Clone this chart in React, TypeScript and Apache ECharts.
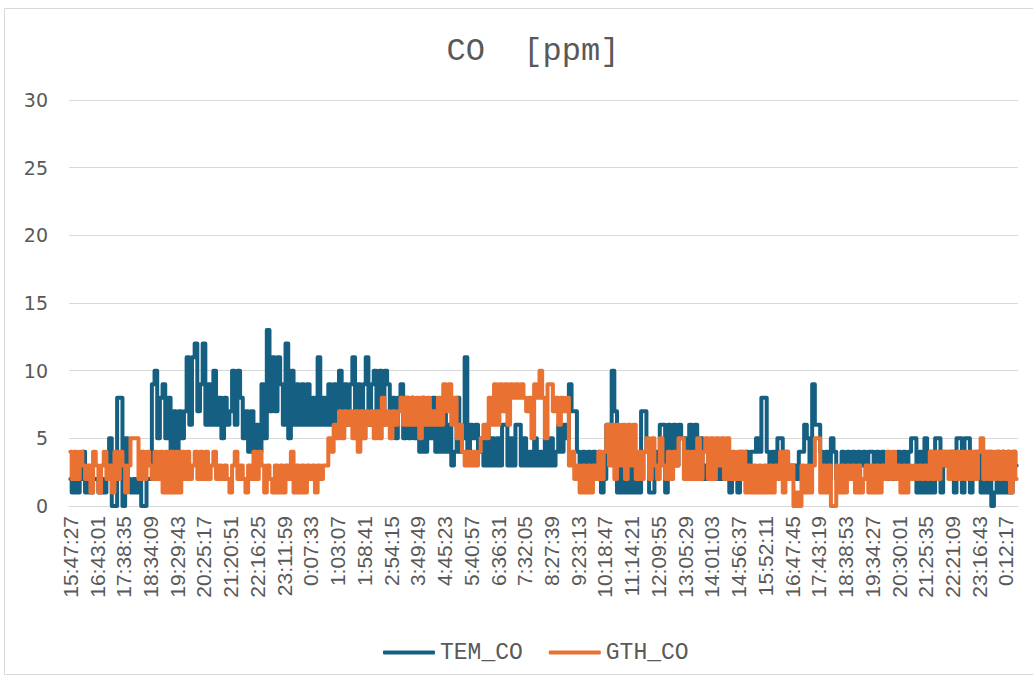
import React, { useEffect, useRef } from "react";
import * as echarts from "echarts";

const titleText = "CO  [ppm]";
const seriesNames = ["TEM_CO", "GTH_CO"];

const tickLabels = [
  "15:47:27", "16:43:01", "17:38:35", "18:34:09", "19:29:43", "20:25:17",
  "21:20:51", "22:16:25", "23:11:59", "0:07:33", "1:03:07", "1:58:41",
  "2:54:15", "3:49:49", "4:45:23", "5:40:57", "6:36:31", "7:32:05",
  "8:27:39", "9:23:13", "10:18:47", "11:14:21", "12:09:55", "13:05:29",
  "14:01:03", "14:56:37", "15:52:11", "16:47:45", "17:43:19", "18:38:53",
  "19:34:27", "20:30:01", "21:25:35", "22:21:09", "23:16:43", "0:12:17",
];
const yTicks = [0, 5, 10, 15, 20, 25, 30];
const startSeconds = 15 * 3600 + 47 * 60 + 27;
const pointsPerTick = 10;

// TEM_CO readings (ppm), ten readings per labelled time step
const temCoEvening = [
  2, 1, 2, 1, 2, 4, 1, 2, 1, 2,
  2, 1, 2, 1, 2, 5, 0, 0, 8, 8,
  0, 5, 2, 1, 2, 1, 2, 0, 0, 2,
  2, 9, 10, 5, 8, 9, 5, 8, 4, 7,
  4, 7, 5, 7, 11, 6, 11, 12, 7, 9,
  12, 6, 9, 6, 10, 6, 8, 5, 8, 6,
  7, 10, 6, 10, 8, 5, 7, 4, 7, 4,
  6, 4, 9, 5, 13, 7, 11, 7, 11, 9,
  6, 12, 5, 10, 6, 9, 6, 9, 6, 9,
];
const temCoNight = [
  6, 8, 6, 11, 6, 8, 6, 9, 6, 9,
  6, 10, 6, 9, 6, 9, 11, 6, 9, 6,
  9, 11, 6, 9, 10, 6, 10, 6, 10, 9,
  6, 8, 5, 8, 9, 5, 8, 5, 8, 5,
  7, 4, 8, 4, 7, 5, 8, 4, 7, 4,
  7, 4, 6, 3, 4, 8, 4, 5, 11, 4,
  6, 5, 6, 4, 5, 3, 6, 3, 5, 3,
  5, 3, 6, 6, 3, 5, 3, 6, 6, 3,
  5, 3, 4, 3, 5, 3, 4, 3, 5, 3,
];
const temCoDay = [
  5, 3, 4, 6, 4, 6, 5, 9, 7, 7,
  4, 3, 4, 3, 4, 3, 4, 2, 4, 1,
  2, 6, 6, 10, 7, 1, 3, 1, 3, 1,
  3, 1, 3, 1, 7, 7, 4, 1, 1, 4,
  3, 6, 6, 1, 6, 3, 6, 3, 6, 5,
  5, 3, 6, 3, 6, 2, 5, 2, 3, 2,
  3, 2, 3, 2, 3, 2, 3, 1, 3, 2,
  1, 4, 2, 4, 2, 4, 4, 5, 4, 8,
  8, 4, 2, 4, 2, 5, 5, 2, 4, 3,
];
const temCoLate = [
  3, 3, 2, 4, 4, 6, 5, 3, 9, 6,
  6, 4, 2, 4, 2, 5, 4, 2, 2, 4,
  2, 4, 3, 4, 2, 4, 3, 4, 2, 4,
  4, 2, 4, 3, 4, 2, 3, 2, 3, 2,
  4, 2, 4, 2, 4, 5, 5, 1, 4, 1,
  5, 1, 4, 1, 5, 5, 1, 4, 3, 4,
  4, 1, 5, 5, 1, 5, 5, 1, 3, 4,
  4, 1, 4, 1, 4, 0, 1, 4, 1, 4,
  1, 4, 1, 4, 3,
];

// GTH_CO readings (ppm)
const gthCoEvening = [
  4, 2, 4, 2, 4, 3, 2, 3, 1, 4,
  3, 1, 3, 4, 2, 3, 1, 4, 2, 4,
  3, 1, 3, 5, 5, 5, 2, 4, 2, 4,
  3, 2, 4, 2, 4, 1, 4, 1, 4, 1,
  4, 1, 4, 2, 4, 2, 3, 4, 2, 4,
  2, 4, 2, 3, 4, 2, 3, 2, 3, 2,
  1, 3, 4, 2, 3, 2, 1, 3, 2, 4,
  2, 4, 3, 1, 3, 2, 1, 3, 1, 3,
  1, 3, 2, 4, 1, 3, 1, 3, 1, 3,
];
const gthCoNight = [
  2, 3, 1, 3, 2, 3, 3, 5, 4, 6,
  5, 7, 5, 7, 6, 7, 5, 7, 4, 7,
  5, 7, 6, 7, 5, 7, 5, 8, 6, 7,
  5, 7, 6, 7, 8, 6, 8, 6, 8, 6,
  8, 5, 8, 6, 8, 6, 7, 6, 8, 6,
  9, 7, 9, 6, 8, 5, 6, 4, 3, 4,
  3, 4, 3, 4, 5, 6, 5, 8, 6, 9,
  6, 9, 7, 9, 6, 9, 8, 9, 8, 9,
  8, 7, 8, 5, 9, 8, 10, 8, 5, 9,
];
const gthCoDay = [
  9, 7, 8, 6, 8, 7, 8, 3, 4, 2,
  3, 1, 3, 1, 3, 1, 3, 2, 4, 2,
  4, 6, 3, 6, 2, 6, 3, 6, 2, 6,
  3, 6, 2, 4, 2, 4, 5, 2, 5, 3,
  2, 5, 3, 2, 4, 2, 4, 3, 5, 5,
  2, 4, 2, 4, 2, 5, 2, 4, 5, 2,
  5, 2, 5, 3, 5, 2, 5, 2, 4, 2,
  4, 2, 4, 1, 3, 1, 3, 1, 3, 1,
  3, 1, 3, 1, 3, 2, 4, 1, 4, 2,
];
const gthCoLate = [
  3, 0, 1, 0, 3, 1, 3, 1, 3, 5,
  5, 1, 3, 1, 3, 0, 0, 3, 1, 3,
  1, 3, 2, 3, 1, 3, 1, 2, 3, 1,
  3, 1, 3, 1, 3, 2, 4, 2, 4, 2,
  3, 1, 3, 1, 3, 2, 3, 2, 3, 2,
  3, 2, 4, 2, 4, 2, 4, 3, 4, 2,
  4, 2, 4, 2, 4, 2, 4, 2, 4, 2,
  4, 5, 2, 4, 2, 4, 2, 4, 2, 4,
  2, 4, 1, 4, 2,
];

const temCo = [...temCoEvening, ...temCoNight, ...temCoDay, ...temCoLate];
const gthCo = [...gthCoEvening, ...gthCoNight, ...gthCoDay, ...gthCoLate];

function clock(sec: number): string {
  const s = ((Math.round(sec) % 86400) + 86400) % 86400;
  const h = Math.floor(s / 3600);
  const m = Math.floor((s % 3600) / 60);
  const ss = s % 60;
  return `${h}:${String(m).padStart(2, "0")}:${String(ss).padStart(2, "0")}`;
}

const stepSeconds = 3334 / pointsPerTick;
const categories = temCo.map((_, i) =>
  i % pointsPerTick === 0 && tickLabels[i / pointsPerTick]
    ? tickLabels[i / pointsPerTick]
    : clock(startSeconds + i * stepSeconds)
);

const BLUE = "#156082";
const ORANGE = "#E97132";
const GREY_TEXT = "#595959";
const GRID = "#d9d9d9";

export default function App() {
  const ref = useRef<HTMLDivElement>(null);
  useEffect(() => {
    if (!ref.current) return;
    const chart = echarts.init(ref.current, null, { renderer: "svg" });
    chart.setOption({
      animation: false,
      backgroundColor: "#ffffff",
      graphic: [
        {
          type: "rect",
          shape: { x: 4.5, y: 8.5, width: 1100, height: 666 },
          style: { fill: "none", stroke: GRID, lineWidth: 1 },
          silent: true,
        },
        {
          type: "text",
          x: 533,
          y: 51,
          style: {
            text: titleText,
            fill: GREY_TEXT,
            font: '32px "Liberation Mono", monospace',
            textAlign: "center",
            textVerticalAlign: "middle",
          },
        },
      ],
      legend: {
        data: seriesNames,
        left: 378,
        top: 636,
        icon: "roundRect",
        itemWidth: 52,
        itemHeight: 4,
        itemGap: 26,
        textStyle: {
          color: GREY_TEXT,
          fontFamily: '"Liberation Mono", monospace',
          fontSize: 23,
        },
      },
      grid: { left: 69, right: 15, top: 100, bottom: 174, containLabel: false },
      xAxis: {
        type: "category",
        data: categories,
        boundaryGap: true,
        axisLine: { show: true, lineStyle: { color: GRID, width: 1 } },
        axisTick: { show: false },
        axisLabel: {
          interval: pointsPerTick - 1,
          rotate: 90,
          margin: 10,
          color: GREY_TEXT,
          fontFamily: '"Liberation Sans", Arial, sans-serif',
          fontSize: 21,
        },
        splitLine: { show: false },
      },
      yAxis: {
        type: "value",
        min: yTicks[0],
        max: yTicks[yTicks.length - 1],
        interval: yTicks[1] - yTicks[0],
        axisLine: { show: false },
        axisTick: { show: false },
        axisLabel: {
          margin: 21,
          color: GREY_TEXT,
          fontFamily: '"DejaVu Sans", sans-serif',
          fontSize: 19,
        },
        splitLine: { show: true, lineStyle: { color: GRID, width: 1 } },
      },
      series: [
        {
          name: seriesNames[0],
          type: "line",
          data: temCo,
          step: "middle",
          showSymbol: false,
          symbol: "none",
          color: BLUE,
          lineStyle: { color: BLUE, width: 4, cap: "round", join: "round" },
          silent: true,
        },
        {
          name: seriesNames[1],
          type: "line",
          data: gthCo,
          step: "middle",
          showSymbol: false,
          symbol: "none",
          color: ORANGE,
          lineStyle: { color: ORANGE, width: 4, cap: "round", join: "round" },
          silent: true,
        },
      ],
    });
    return () => chart.dispose();
  }, []);
  return (
    <div
      ref={ref}
      style={{ position: "absolute", left: 0, top: 0, width: 1033, height: 680, background: "#fff" }}
    />
  );
}
